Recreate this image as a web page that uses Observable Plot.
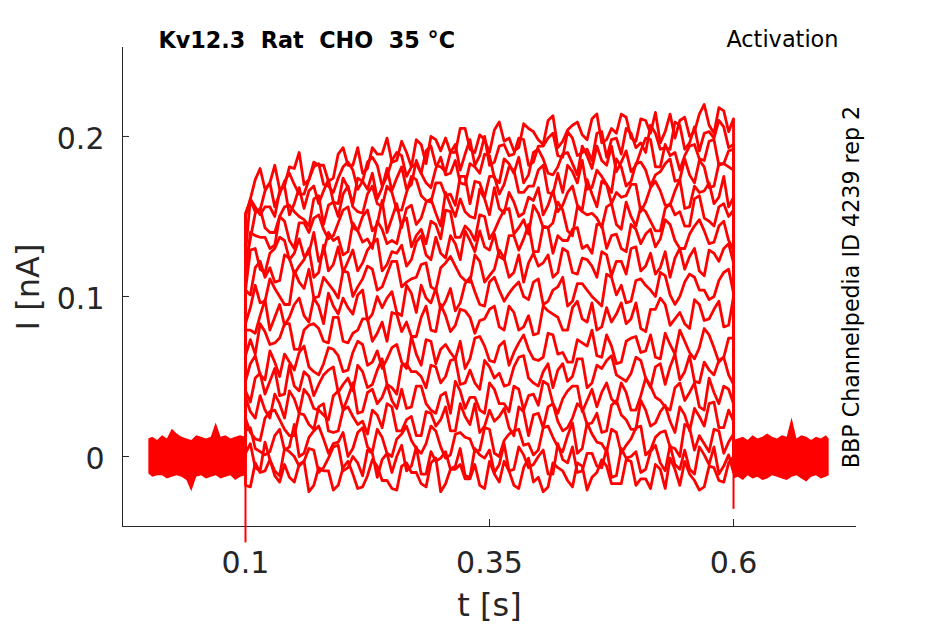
<!DOCTYPE html>
<html>
<head>
<meta charset="utf-8">
<script src="https://cdn.jsdelivr.net/npm/d3@7"></script>
<script src="https://cdn.jsdelivr.net/npm/@observablehq/plot@0.6"></script>
<style>
  html, body { margin: 0; padding: 0; background: #fff; }
  #chart { width: 945px; height: 624px; }
</style>
</head>
<body>
<div id="chart"></div>
<script>
// ---- axis setup ----
const xDomain = [-0.026, 0.726];
const yDomain = [-0.04375, 0.2556];
const xTicks = [0.1, 0.35, 0.6];
const yTicks = [0, 0.1, 0.2];
const xTickLabels = ["0.1", "0.35", "0.6"];
const yTickLabels = ["0", "0.1", "0.2"];

// ---- texts ----
const titleText = "Kv12.3\u00a0\u00a0Rat\u00a0\u00a0CHO\u00a0\u00a035 °C";
const protocolText = "Activation";
const sourceText = "BBP Channelpedia ID 4239 rep 2";
const xLabel = "t [s]";
const yLabel = "I [nA]";

// ---- sample times during the voltage step (s) ----
const tPulse = [0.10,0.11,0.12,0.13,0.14,0.15,0.16,0.17,0.18,0.19,
                0.20,0.21,0.22,0.23,0.24,0.25,0.26,0.27,0.28,0.29,
                0.30,0.31,0.32,0.33,0.34,0.35,0.36,0.37,0.38,0.39,
                0.40,0.41,0.42,0.43,0.44,0.45,0.46,0.47,0.48,0.49,
                0.50,0.51,0.52,0.53,0.54,0.55,0.56,0.57,0.58,0.59,0.60];
const tMid = [0.105,0.115,0.125,0.135,0.145,0.155,0.165,0.175,0.185,0.195,
              0.205,0.215,0.225,0.235,0.245,0.255,0.265,0.275,0.285,0.295,
              0.305,0.315,0.325,0.335,0.345,0.355,0.365,0.375,0.385,0.395,
              0.405,0.415,0.425,0.435,0.445,0.455,0.465,0.475,0.485,0.495,
              0.505,0.515,0.525,0.535,0.545,0.555,0.565,0.575,0.585,0.595];

// ---- current traces during the step (pA), one per voltage step: samples at tPulse ----
const trace01 = [150,173,167,182,169,180,170,184,182,174,193,182,177,193,189,184,197,181,195,200,191,190,205,192,201,190,209,199,193,205,198,210,193,204,209,198,214,198,202,212,197,210,215,203,199,212,203,220,202,216,211];
const trace02 = [152,153,166,156,172,170,164,181,170,165,181,179,172,187,169,185,188,181,177,194,181,190,179,198,188,182,194,188,199,182,194,199,188,203,188,192,202,187,199,205,193,190,202,193,209,192,206,202,199,206,195];
const trace03 = [127,156,156,150,169,158,155,169,166,159,174,158,172,177,168,166,181,170,177,168,187,177,171,183,177,188,171,183,187,176,192,177,181,190,176,188,194,182,178,191,182,199,181,195,190,188,195,185,198,183,192];
const trace04 = [121,152,143,140,156,153,148,161,145,159,164,156,152,169,156,165,154,175,163,159,171,164,175,158,171,175,164,181,165,169,179,165,177,182,171,167,179,170,186,169,183,179,176,183,172,186,171,181,169,183,179];
const trace05 = [111,138,137,132,147,130,146,149,142,138,154,143,150,141,160,149,143,157,149,161,144,157,161,150,167,151,155,165,150,162,168,157,153,165,157,173,156,170,165,163,170,159,172,157,166,155,169,166,158,175,162];
const trace06 = [104,130,115,130,135,127,125,140,128,135,126,146,134,130,142,135,146,131,142,147,136,153,137,141,151,136,148,155,143,139,152,143,159,141,156,151,149,156,145,159,144,153,141,155,151,144,161,149,144,158,154];
const trace07 = [104,118,112,109,126,114,123,112,132,120,115,129,121,133,116,128,132,123,138,123,127,138,123,135,141,129,125,138,129,145,128,143,138,135,143,132,145,130,139,128,142,139,131,148,135,130,144,141,134,147,129];
const trace08 = [83,107,97,105,95,116,105,99,112,104,116,100,111,117,106,122,106,111,120,106,118,125,113,109,122,113,129,112,126,121,119,126,115,128,114,123,112,126,122,114,131,119,114,128,124,117,130,113,127,130,121];
const trace09 = [79,77,98,87,82,95,88,99,83,94,99,89,104,89,93,103,88,102,107,96,92,105,96,112,95,109,104,102,109,98,111,97,106,94,108,104,97,114,101,96,110,107,100,113,95,109,112,104,100,115,102];
const trace10 = [63,64,78,71,83,67,79,83,72,87,72,77,86,72,84,90,78,75,87,79,95,78,92,87,85,92,81,94,79,88,77,91,87,79,97,84,79,93,89,83,96,78,92,95,86,83,98,85,92,81,100];
const trace11 = [47,63,48,59,64,54,69,53,58,67,53,65,70,59,55,68,59,75,57,72,67,65,72,61,75,60,69,57,71,67,60,77,64,59,73,69,63,76,58,72,75,66,62,77,64,72,61,80,68,62,74];
const trace12 = [41,49,39,55,39,44,53,38,51,56,45,41,53,45,61,43,57,53,50,57,46,60,45,54,42,56,52,45,62,49,44,58,54,47,61,43,57,60,51,47,62,49,56,45,64,53,47,59,51,62,45];
const trace13 = [37,24,29,39,24,36,42,30,26,38,29,46,28,42,37,35,42,31,44,29,38,27,41,37,29,46,33,28,42,38,32,45,27,41,44,35,31,46,33,40,29,49,37,31,43,35,46,29,40,44,33];
const trace14 = [24,11,24,29,17,13,26,17,33,15,29,25,22,29,18,31,16,25,13,27,23,16,33,20,15,29,25,18,31,13,27,31,22,18,33,20,27,16,35,23,17,29,21,32,15,26,30,19,34,18,22];
const trace15 = [16,5,1,13,4,20,2,16,11,8,15,5,18,3,12,0,14,10,2,19,6,1,15,11,4,17,0,14,17,8,4,19,6,13,2,21,9,3,15,7,18,1,12,16,5,20,4,8,17,2,14];
const trace16 = [2,-7,9,-9,5,0,-3,4,-7,6,-9,0,-12,2,-2,-10,7,-6,-11,3,-1,-8,5,-13,1,4,-5,-9,6,-7,0,-11,8,-4,-10,2,-6,5,-12,-1,3,-8,7,-9,-5,4,-11,1,6,-6,-10];
const trace17 = [-18,-4,-9,-12,-5,-16,-3,-18,-9,-21,-7,-11,-19,-2,-15,-20,-6,-10,-17,-4,-22,-8,-5,-14,-18,-3,-16,-9,-20,-1,-13,-19,-7,-15,-4,-21,-10,-6,-17,-2,-18,-14,-5,-20,-8,-3,-15,-19,-7,-16,0];

// ---- same traces, samples at tMid (pA) ----
const mid01 = [161,180,171,167,181,190,173,182,172,189,182,193,180,189,199,185,190,198,183,198,199,190,205,190,198,204,197,191,208,203,195,213,197,207,201,211,196,205,214,199,211,202,196,214,210,200,214,207,218,203];
const mid02 = [160,154,171,164,177,164,173,183,169,174,184,167,184,182,175,190,175,183,191,182,178,195,189,182,200,184,195,189,198,184,194,202,187,199,190,185,203,198,189,202,196,207,192,192,207,196,191,203,210,193];
const mid03 = [161,151,156,166,151,168,166,158,173,158,168,174,167,161,180,174,167,185,171,180,176,185,170,181,189,174,186,177,171,190,186,176,189,183,194,180,185,194,184,178,191,198,181,188,179,194,186,197,182,191];
const mid04 = [136,155,140,150,157,150,144,163,157,150,169,153,164,158,169,154,165,173,160,171,163,157,175,172,162,175,170,179,165,169,182,164,165,178,185,168,175,165,181,172,184,169,178,186,173,176,185,168,183,181];
const mid05 = [140,137,130,150,135,146,140,151,136,146,156,141,154,145,140,158,155,145,159,152,165,150,153,149,161,168,152,159,152,160,151,166,157,169,154,164,172,158,162,170,153,168,166,157,173,156,165,171,162,156];
const mid06 = [129,117,127,137,123,136,127,122,140,137,128,141,136,147,133,133,149,138,133,145,154,137,144,135,150,141,154,139,148,157,143,146,154,138,153,152,143,158,142,150,156,147,141,158,153,144,163,147,156,150];
const mid07 = [101,122,118,110,124,119,130,115,116,131,122,116,129,136,120,127,119,134,126,137,124,133,141,128,131,139,123,138,136,128,144,127,135,142,130,127,145,138,130,145,133,142,136,145,130,139,148,133,144,135];
const mid08 = [93,96,111,100,95,109,117,100,108,99,115,106,119,104,114,122,109,112,121,104,121,119,110,126,109,117,124,115,109,127,121,112,130,115,124,119,128,113,122,130,116,127,118,112,130,125,116,129,122,133];
const mid09 = [79,88,79,95,87,99,84,94,102,89,93,101,85,100,99,90,107,90,99,105,97,91,108,103,94,112,97,106,100,109,95,104,112,97,108,100,94,112,107,97,111,104,115,101,100,114,104,98,110,117];
const mid10 = [73,83,70,74,83,67,82,80,71,87,71,79,86,77,72,89,84,75,94,78,88,82,91,77,86,94,79,90,81,76,94,89,79,93,86,96,81,84,96,86,80,92,99,82,90,80,95,86,97,82];
const mid11 = [58,51,66,50,59,65,56,51,68,63,54,72,57,66,61,70,55,64,73,58,70,61,55,74,69,59,72,65,76,61,62,76,65,59,71,79,62,69,59,74,65,76,61,70,79,65,68,76,59,74];
const mid12 = [34,52,47,38,57,41,50,45,54,40,49,57,43,54,45,39,58,53,43,56,50,61,46,46,60,49,44,56,63,46,53,43,58,50,61,46,55,63,49,52,60,43,58,56,48,63,46,54,60,51];
const mid13 = [28,38,24,33,41,27,38,29,23,41,37,27,40,33,45,30,30,44,33,27,40,47,30,37,27,42,33,44,29,39,47,33,36,44,28,42,40,36,46,29,38,44,35,29,46,40,31,49,33,42];
const mid14 = [15,10,28,23,13,27,20,31,16,16,31,20,14,26,33,16,23,13,28,19,31,16,25,33,19,22,30,13,28,26,18,33,16,24,30,21,15,32,26,17,35,19,28,22,31,16,25,33,18,29];
const mid15 = [18,3,3,17,6,0,12,19,2,9,0,15,6,17,2,11,19,5,8,16,-1,14,12,3,18,2,10,16,7,1,18,12,3,21,5,14,8,17,2,11,19,4,15,6,0,18,13,3,16,9];
const mid16 = [8,-9,-2,-12,3,-6,5,-10,-1,7,-7,-4,4,-13,2,0,-9,6,-11,-3,3,-6,-12,5,-1,-10,8,-8,1,-5,4,-11,-2,6,-9,2,-7,-13,5,0,-10,3,-4,7,-8,-8,6,-5,-11,1];
const mid17 = [-19,-10,-2,-16,-13,-5,-22,-7,-9,-18,-3,-20,-12,-6,-15,-21,-4,-10,-19,-1,-17,-8,-14,-5,-20,-11,-3,-18,-7,-16,-22,-4,-9,-19,-6,-13,-2,-17,-17,-3,-14,-20,-8,-1,-18,-11,-21,-6,-15,-4];

const traces = [trace01,trace02,trace03,trace04,trace05,trace06,trace07,trace08,trace09,
                trace10,trace11,trace12,trace13,trace14,trace15,trace16,trace17];
const mids = [mid01,mid02,mid03,mid04,mid05,mid06,mid07,mid08,mid09,
              mid10,mid11,mid12,mid13,mid14,mid15,mid16,mid17];

// ---- holding-current noise band before and after the step (pA) ----
const tPre  = [0.001,0.005,0.010,0.015,0.020,0.025,0.030,0.035,0.040,0.045,0.050,0.055,0.060,0.065,0.070,0.075,0.080,0.085,0.090,0.095,0.100];
const preHi = [11,12,10,13,11,17,14,12,11,10,13,12,11,12,21,12,13,11,12,13,12];
const preLo = [-11,-13,-12,-12,-14,-13,-12,-13,-15,-22,-13,-12,-14,-13,-12,-14,-13,-12,-15,-13,-12];
const tPost  = [0.600,0.605,0.610,0.615,0.620,0.625,0.630,0.635,0.640,0.645,0.650,0.655,0.660,0.665,0.670,0.675,0.680,0.685,0.690,0.695,0.698];
const postHi = [10,11,12,10,13,11,12,14,12,11,13,12,24,11,13,12,10,12,11,13,11];
const postLo = [-14,-13,-15,-12,-14,-13,-15,-14,-12,-13,-14,-15,-13,-12,-14,-16,-13,-12,-14,-13,-12];

// ---- capacitive transients at step on/off (pA) ----
const transientT   = [0.1, 0.6];
const transientMin = [-54, -33];

// ---- build tables (nA) ----
const lineRows = [];
traces.forEach((tr, k) => {
  const md = mids[k];
  const n = Math.min(tr.length, tPulse.length);
  lineRows.push({k, t: tPulse[0], i: 0});
  for (let j = 0; j < n; j++) {
    lineRows.push({k, t: tPulse[j], i: tr[j] / 1000});
    if (j < md.length && j < tMid.length && j < n - 1) lineRows.push({k, t: tMid[j], i: md[j] / 1000});
  }
  lineRows.push({k, t: tPulse[n - 1], i: 0});
});
const preRows  = tPre.map((t, j) => ({t, lo: preLo[j] / 1000, hi: preHi[j] / 1000}));
const postRows = tPost.map((t, j) => ({t, lo: postLo[j] / 1000, hi: postHi[j] / 1000}));
const transRows = transientT.map((t, j) => ({t, from: 0, to: transientMin[j] / 1000}));

const RED = "#ff0000";
const AX = "#262626";
const frameW = 945 - 122 - 89;
const frameH = 624 - 47 - 98;

const chart = Plot.plot({
  width: 945,
  height: 624,
  marginLeft: 122,
  marginRight: 89,
  marginTop: 47,
  marginBottom: 98,
  style: {fontFamily: "DejaVu Sans", background: "#fff", color: AX, overflow: "visible"},
  x: {domain: xDomain, label: null},
  y: {domain: yDomain, label: null},
  marks: [
    Plot.ruleX([xDomain[0]], {stroke: AX, strokeWidth: 1}),
    Plot.ruleY([yDomain[0]], {stroke: AX, strokeWidth: 1}),
    Plot.tickX(xTicks, {x: d => d, stroke: AX, insetTop: frameH - 7}),
    Plot.tickY(yTicks, {y: d => d, stroke: AX, insetRight: frameW - 7}),
    Plot.axisX({ticks: xTicks, tickSize: 0, tickPadding: 25, fontSize: 30, label: null,
                tickFormat: d => xTickLabels[xTicks.indexOf(d)]}),
    Plot.axisY({ticks: yTicks, tickSize: 0, tickPadding: 18, fontSize: 30, label: null, dy: 3,
                tickFormat: d => yTickLabels[yTicks.indexOf(d)]}),
    Plot.areaY(preRows, {x: "t", y1: "lo", y2: "hi", fill: RED}),
    Plot.areaY(postRows, {x: "t", y1: "lo", y2: "hi", fill: RED}),
    Plot.line(lineRows, {x: "t", y: "i", z: "k", stroke: RED, strokeWidth: 2.8, strokeLinejoin: "round"}),
    Plot.ruleX(transRows, {x: "t", y1: "from", y2: "to", stroke: RED, strokeWidth: 2}),
    Plot.text([titleText], {frameAnchor: "top-left", dx: 36, dy: 0, lineAnchor: "bottom", textAnchor: "start",
                            fontSize: 22.3, fontWeight: "bold", fill: "#000"}),
    Plot.text([protocolText], {frameAnchor: "top-right", dx: -18, dy: -1, lineAnchor: "bottom", textAnchor: "end",
                               fontSize: 22.4, fill: "#000"}),
    Plot.text([sourceText], {frameAnchor: "right", dx: 2, rotate: -90, lineAnchor: "bottom", textAnchor: "middle",
                             fontSize: 22.2, fill: "#000"}),
    Plot.text([yLabel], {frameAnchor: "left", dx: -84, rotate: -90, lineAnchor: "bottom", textAnchor: "middle",
                         fontSize: 32, fill: AX}),
    Plot.text([xLabel], {frameAnchor: "bottom", dy: 89, lineAnchor: "bottom", textAnchor: "middle",
                         fontSize: 32, fill: AX})
  ]
});
document.getElementById("chart").appendChild(chart);
</script>
</body>
</html>
